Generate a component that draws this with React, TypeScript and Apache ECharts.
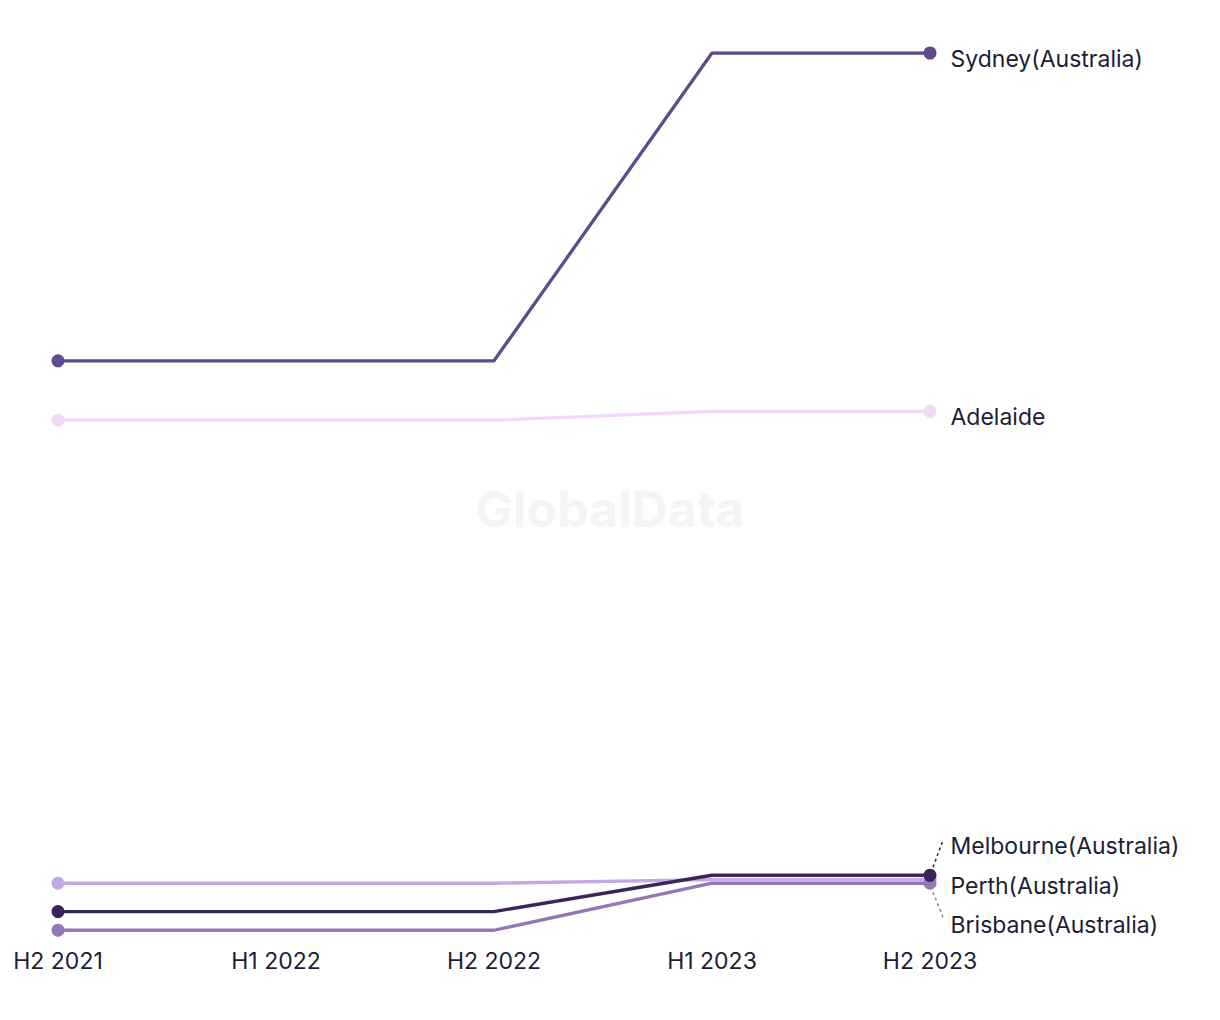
import React, { useEffect, useRef } from "react";
import * as echarts from "echarts";

const categories = ["H2 2021", "H1 2022", "H2 2022", "H1 2023", "H2 2023"];
const seriesNames = ["Sydney(Australia)", "Adelaide", "Perth(Australia)", "Brisbane(Australia)", "Melbourne(Australia)"];
const sydney = [65.3, 65.3, 65.3, 100, 100];
const adelaide = [58.6, 58.6, 58.6, 59.6, 59.6];
const perth = [6.4, 6.4, 6.4, 6.8, 6.8];
const brisbane = [1.1, 1.1, 1.1, 6.4, 6.4];
const melbourne = [3.2, 3.2, 3.2, 7.3, 7.3];
const seriesValues = [sydney, adelaide, perth, brisbane, melbourne];
const colors = ["#5f4a8b", "#f2d9fa", "#c4a8e6", "#9378b5", "#3b2457"];
const labelOffsets = [[0, 6], [0, 6], [0, 6], [0, 42], [0, -29]];

const FONT = "Inter";

export default function App() {
  const ref = useRef<HTMLDivElement>(null);
  useEffect(() => {
    document.body.style.margin = "0";
    const chart = echarts.init(ref.current!, null, { renderer: "svg" });
    const series = seriesValues.map((vals, si) => {
      const last = vals.length - 1;
      return {
        name: seriesNames[si],
        type: "line",
        z: 2 + si,
        showAllSymbol: true,
        symbol: "circle",
        symbolSize: (_v: any, p: any) => (p.dataIndex === 0 || p.dataIndex === last ? 13 : 0),
        lineStyle: { width: 3.3, color: colors[si] },
        itemStyle: { color: colors[si] },
        emphasis: { disabled: true },
        data: vals.map((v, i) =>
          i === last
            ? {
                value: v,
                label: {
                  show: true,
                  position: "right",
                  distance: 14,
                  offset: labelOffsets[si],
                  formatter: seriesNames[si],
                  color: "#1d1d35",
                  fontFamily: FONT,
                  fontSize: 23,
                },
              }
            : v
        ),
      };
    });
    chart.setOption({
      animation: false,
      grid: { left: 58, right: 290, top: 53, bottom: 80, containLabel: false },
      xAxis: {
        type: "category",
        data: categories,
        boundaryGap: false,
        axisLine: { show: false },
        axisTick: { show: false },
        splitLine: { show: false },
        axisLabel: { color: "#1d1d35", fontFamily: FONT, fontSize: 23, margin: 9 },
      },
      yAxis: {
        type: "value",
        min: 0,
        max: 100,
        show: false,
        splitLine: { show: false },
      },
      series,
    });
    const mEnd = chart.convertToPixel({ seriesIndex: 4 }, [4, melbourne[4]]) as number[];
    const bEnd = chart.convertToPixel({ seriesIndex: 3 }, [4, brisbane[4]]) as number[];
    chart.setOption({
      graphic: [
        {
          type: "text",
          left: "center",
          top: 484,
          z: 0,
          style: { text: "GlobalData", fill: "#f4f4f4", fontFamily: FONT, fontWeight: "bold", fontSize: 50 },
        },
        {
          type: "line",
          z: 1,
          shape: { x1: mEnd[0] + 3, y1: mEnd[1] - 8, x2: mEnd[0] + 13, y2: mEnd[1] - 35 },
          style: { stroke: colors[4], lineWidth: 1.5, lineDash: [3, 3] },
        },
        {
          type: "line",
          z: 1,
          shape: { x1: bEnd[0] + 3, y1: bEnd[1] + 9, x2: bEnd[0] + 13, y2: bEnd[1] + 34 },
          style: { stroke: colors[3], lineWidth: 1.5, lineDash: [3, 3] },
        },
      ],
    });
    return () => chart.dispose();
  }, []);
  return <div ref={ref} style={{ width: 1220, height: 1020 }} />;
}
